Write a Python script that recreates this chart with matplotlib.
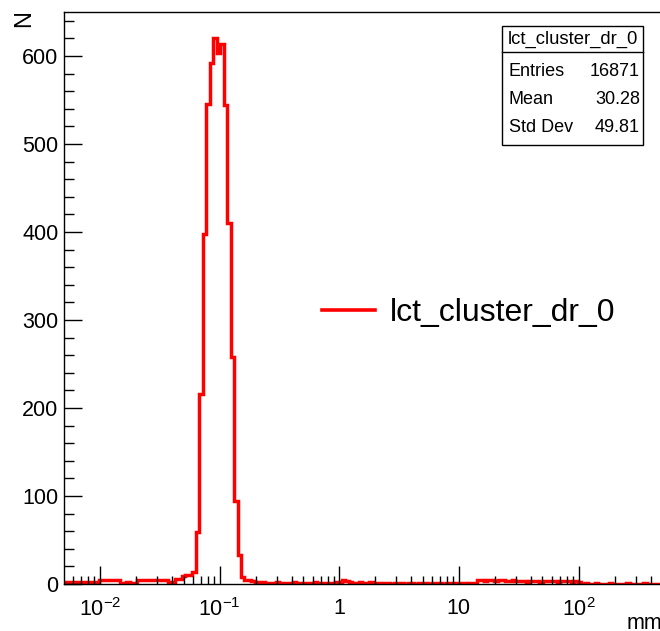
import numpy as np
import matplotlib
matplotlib.use("Agg")
import matplotlib.pyplot as plt
from matplotlib.ticker import FixedLocator, FixedFormatter, LogLocator, MultipleLocator, NullFormatter
from matplotlib.patches import Rectangle
from matplotlib.lines import Line2D

# ---------------- data ----------------
hist_name = "lct_cluster_dr_0"
x_title = "mm"
y_title = "N"
log_lo, bin_width_dec = -2.3, 0.029   # log10 binning
counts = [
    2, 2, 2, 2, 2, 2, 2, 2, 2, 2,
    4, 4, 4, 4, 4, 4,
    1, 1, 2, 1, 1,
    4, 5, 4, 5, 4, 4, 5, 4, 4,
    2, 2,
    6, 6,
    9, 10, 10, 14, 59,
    216, 398, 545, 592, 620, 603, 614, 544, 410, 258, 94, 33, 8,
    4, 4, 3, 2, 2, 2,
    1, 1, 1, 2, 1, 1, 1, 1, 2, 1, 1, 1, 1, 1, 2, 1, 1, 1, 1, 1,
    2, 2,
    4, 3,
    2, 1, 1, 2, 1, 1, 2, 1,
    1, 0, 1, 1, 0, 1, 1, 1, 0, 1, 1, 0, 1, 1, 1, 0, 1, 1, 1, 0, 1, 1, 0, 1, 1, 1, 0, 1, 1,
    4, 4, 3, 4, 4, 3, 4, 4, 3, 3, 4, 3,
    3, 3, 2, 3, 3, 3, 2, 3, 3, 3, 3, 2, 3, 3, 3, 2, 3, 2,
    0, 1, 0, 0, 1, 0, 0, 0, 1, 0, 0, 0, 0, 1, 0, 0, 0, 0, 1, 0, 0, 0, 0, 0, 1,
    0, 0, 0, 0, 0, 0, 0, 0, 0, 0, 0, 0, 0, 0, 0, 0, 0, 0, 0, 0, 0, 0, 0, 0, 0, 0,
]
x_major = [1e-2, 1e-1, 1, 10, 1e2, 1e3]
x_major_labels = [r"$10^{-2}$", r"$10^{-1}$", "1", "10", r"$10^{2}$", r"$10^{3}$"]
y_major = [0, 100, 200, 300, 400, 500, 600]
y_major_labels = ["0", "100", "200", "300", "400", "500", "600"]
stats_labels = ["Entries", "Mean", "Std Dev"]
stats_values = ["16871", "30.28", "49.81"]

# ---------------- style ----------------
plt.rcParams["font.family"] = ["Liberation Sans", "DejaVu Sans"]
plt.rcParams["mathtext.fontset"] = "custom"
plt.rcParams["mathtext.rm"] = "Liberation Sans"
plt.rcParams["mathtext.it"] = "Liberation Sans:italic"
plt.rcParams["mathtext.bf"] = "Liberation Sans:bold"

W, H = 660, 631
fig = plt.figure(figsize=(W / 100, H / 100), dpi=100)

def fx(px):
    return px / W

def fy(py):
    return 1 - py / H

ax_left, ax_right, ax_top, ax_bottom = 64, 758, 12, 584
ax = fig.add_axes([fx(ax_left), fy(ax_bottom), (ax_right - ax_left) / W, (ax_bottom - ax_top) / H])

n = len(counts)
edges = 10 ** (log_lo + bin_width_dec * np.arange(n + 1))
ax.stairs(counts, edges, color="#ff0000", lw=2.5, baseline=None, label=hist_name)

ax.set_xscale("log")
ax.set_xlim(edges[0], edges[-1])
ax.set_ylim(0, 650)

ax.xaxis.set_major_locator(FixedLocator(x_major))
ax.xaxis.set_major_formatter(FixedFormatter(x_major_labels))
ax.xaxis.set_minor_locator(LogLocator(base=10, subs=np.arange(2, 10), numticks=50))
ax.xaxis.set_minor_formatter(NullFormatter())
ax.yaxis.set_major_locator(FixedLocator(y_major))
ax.yaxis.set_major_formatter(FixedFormatter(y_major_labels))
ax.yaxis.set_minor_locator(MultipleLocator(20))

ax.tick_params(axis="both", which="both", direction="in", top=False, right=False,
               colors="black", width=1.0, labelsize=15.5)
ax.tick_params(axis="x", which="major", length=13, pad=10)
ax.tick_params(axis="x", which="minor", length=6)
ax.tick_params(axis="y", which="major", length=13, pad=4)
ax.tick_params(axis="y", which="minor", length=7)
for s in ax.spines.values():
    s.set_linewidth(1.0)
    s.set_color("black")

# axis titles
fig.text(fx(24), fy(19), y_title, rotation=90, ha="center", va="center", fontsize=17)
fig.text(fx(627), fy(629), x_title, ha="left", va="baseline", fontsize=15.5)

# legend
leg = ax.legend(loc="center left", bbox_to_anchor=(fx(322), fy(313)), bbox_transform=fig.transFigure,
                frameon=False, fontsize=23, handlelength=1.66, handletextpad=0.47,
                borderpad=0, borderaxespad=0)
for h in leg.legend_handles:
    try:
        h.set_linewidth(2.6)
    except Exception:
        pass

# stats box
bx0, bx1, by0, by1, bsep = 502, 643, 26, 145, 52
fig.add_artist(Rectangle((fx(bx0), fy(by1)), (bx1 - bx0) / W, (by1 - by0) / H,
                         transform=fig.transFigure, facecolor="white", edgecolor="black", lw=1.0))
fig.add_artist(Line2D([fx(bx0), fx(bx1)], [fy(bsep), fy(bsep)], transform=fig.transFigure,
                      color="black", lw=1.0))
fig.text(fx((bx0 + bx1) / 2), fy(39), hist_name, ha="center", va="center", fontsize=13.3)
row_y = [71, 99, 127]
for lab, val, yy in zip(stats_labels, stats_values, row_y):
    fig.text(fx(509), fy(yy), lab, ha="left", va="center", fontsize=13)
    fig.text(fx(640), fy(yy), val, ha="right", va="center", fontsize=13)

fig.savefig("out.png", dpi=100)
